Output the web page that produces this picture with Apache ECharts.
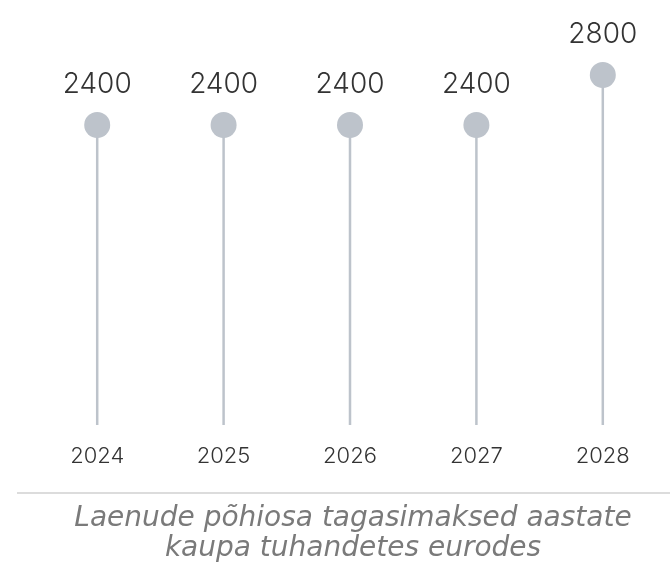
<!DOCTYPE html>
<html>
<head>
<meta charset="utf-8">
<script src="https://cdn.jsdelivr.net/npm/echarts@6/dist/echarts.min.js"></script>
<style>
  html, body { margin: 0; padding: 0; background: #fff; }
  #chart { width: 670px; height: 566px; }
</style>
</head>
<body>
<div id="chart"></div>
<script>
// Loan principal repayments per year (thousand euros)
const years = ['2024', '2025', '2026', '2027', '2028'];
const repayments = [2400, 2400, 2400, 2400, 2800];
const captionLines = ['Laenude põhiosa tagasimaksed aastate', 'kaupa tuhandetes eurodes'];

const stemColor = '#bdc3cb';
const fontFamily = 'Inter, "Noto Sans", sans-serif';
const captionFont = '"DejaVu Sans", sans-serif';

const chart = echarts.init(document.getElementById('chart'));

chart.setOption({
  animation: false,
  grid: { left: 34, right: 4, top: 50, bottom: 141 },
  xAxis: {
    type: 'category',
    data: years,
    axisLine: { show: false },
    axisTick: { show: false },
    axisLabel: { color: '#333', fontSize: 22, fontWeight: 300, fontFamily: fontFamily, margin: 20 }
  },
  yAxis: {
    type: 'value',
    min: 0,
    max: 3000,
    show: false,
    splitLine: { show: false }
  },
  series: [
    {
      // stems
      type: 'bar',
      data: repayments,
      barWidth: 2.5,
      itemStyle: { color: stemColor },
      silent: true
    },
    {
      // heads with value labels
      type: 'scatter',
      data: repayments,
      symbol: 'circle',
      symbolSize: 26,
      itemStyle: { color: stemColor, opacity: 1 },
      label: {
        show: true,
        position: 'top',
        distance: 13,
        color: '#333',
        fontSize: 28,
        fontWeight: 300,
        fontFamily: fontFamily
      }
    }
  ],
  graphic: [
    {
      type: 'line',
      shape: { x1: 17, y1: 493, x2: 670, y2: 493 },
      style: { stroke: '#d0d0d0', lineWidth: 1.5 }
    },
    {
      type: 'text',
      x: 353,
      y: 504,
      style: {
        text: captionLines.join('\n'),
        textAlign: 'center',
        fill: '#7a7a7a',
        font: 'italic 28px ' + captionFont,
        lineHeight: 30
      }
    }
  ]
});
</script>
</body>
</html>
